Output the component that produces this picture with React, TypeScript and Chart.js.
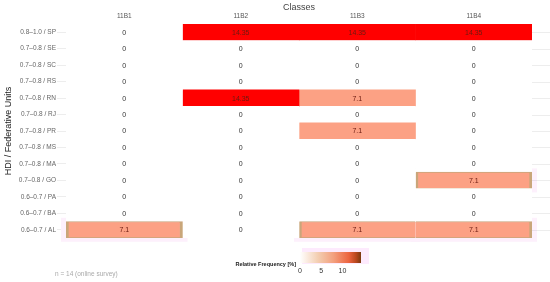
import React, { useEffect, useRef } from "react";
import { Chart, registerables } from "chart.js";

Chart.register(...registerables);

const ROWS = [
  "0.8–1.0 / SP",
  "0.7–0.8 / SE",
  "0.7–0.8 / SC",
  "0.7–0.8 / RS",
  "0.7–0.8 / RN",
  "0.7–0.8 / RJ",
  "0.7–0.8 / PR",
  "0.7–0.8 / MS",
  "0.7–0.8 / MA",
  "0.7–0.8 / GO",
  "0.6–0.7 / PA",
  "0.6–0.7 / BA",
  "0.6–0.7 / AL",
];
const CLASSES = ["11B1", "11B2", "11B3", "11B4"];
const VAL_11B1 = [0, 0, 0, 0, 0, 0, 0, 0, 0, 0, 0, 0, 7.1];
const VAL_11B2 = [14.35, 0, 0, 0, 14.35, 0, 0, 0, 0, 0, 0, 0, 0];
const VAL_11B3 = [14.35, 0, 0, 0, 7.1, 0, 7.1, 0, 0, 0, 0, 0, 7.1];
const VAL_11B4 = [14.35, 0, 0, 0, 0, 0, 0, 0, 0, 7.1, 0, 0, 7.1];
const COLUMNS = [VAL_11B1, VAL_11B2, VAL_11B3, VAL_11B4];
const LEGEND_TICKS = [0, 5, 10];
const LEGEND_MAX = 14.35;
const LEGEND_TITLE = "Relative Frequency [%]";
const FOOTNOTE = "n = 14 (online survey)";
const X_TITLE = "Classes";
const Y_TITLE = "HDI / Federative Units";

const FONT = "'Liberation Sans', Arial, sans-serif";

function colorFor(v: number) {
  if (v >= 14) return "#FF0000";
  if (v > 0) return "#FCA184";
  return "#FFFFFF";
}
function edged(r: number, c: number) {
  if (c < 0 || c >= COLUMNS.length) return false;
  return COLUMNS[c][r] > 0 && COLUMNS[c][r] < 14 && r >= 9;
}

const overlayPlugin = {
  id: "overlay",
  beforeDatasetsDraw(chart: any) {
    const ctx = chart.ctx;
    const xs = chart.scales.x;
    const ys = chart.scales.y;
    ctx.save();
    ctx.fillStyle = "#FDF0FC";
    COLUMNS.forEach((vals, c) => {
      vals.forEach((v, r) => {
        if (edged(r, c)) {
          const x0 = xs.getPixelForValue(c);
          const x1 = xs.getPixelForValue(c + 1);
          const yc = ys.getPixelForValue(r);
          ctx.fillRect(x0 - 5, yc - 12, x1 - x0 + 10, 24);
        }
      });
    });
    ctx.strokeStyle = "rgba(0,0,0,0.07)";
    ctx.lineWidth = 1;
    ROWS.forEach((_, r) => {
      const y = Math.round(ys.getPixelForValue(r)) + 0.5;
      ctx.beginPath();
      ctx.moveTo(chart.chartArea.right, y);
      ctx.lineTo(chart.width, y);
      ctx.stroke();
    });
    ctx.restore();
  },
  afterDatasetsDraw(chart: any) {
    const ctx = chart.ctx;
    const xs = chart.scales.x;
    const ys = chart.scales.y;
    ctx.save();
    ctx.font = `7px ${FONT}`;
    ctx.textAlign = "center";
    ctx.textBaseline = "middle";
    COLUMNS.forEach((vals, c) => {
      vals.forEach((v, r) => {
        ctx.fillStyle = v > 0 ? "#6a1a10" : "#333333";
        ctx.fillText(v === 0 ? "0" : String(v), xs.getPixelForValue(c + 0.5), ys.getPixelForValue(r) + 0.5);
      });
    });
    ctx.font = `6.5px ${FONT}`;
    ctx.fillStyle = "#555";
    CLASSES.forEach((name, c) => {
      ctx.fillText(name, xs.getPixelForValue(c + 0.5), 16.5);
    });
    ctx.restore();
  },
  afterDraw(chart: any) {
    const ctx = chart.ctx;
    ctx.save();
    const bx0 = 300;
    const bx1 = 361;
    const by0 = 252;
    const by1 = 263;
    ctx.fillStyle = "#FDEAFD";
    ctx.fillRect(bx0 + 2, by0 - 4, bx1 - bx0 + 6, by1 - by0 + 5);
    const g = ctx.createLinearGradient(bx0, 0, bx1, 0);
    g.addColorStop(0, "#FFFFFF");
    g.addColorStop(0.3, "#F3CDB0");
    g.addColorStop(0.55, "#F3A07E");
    g.addColorStop(0.8, "#EC6440");
    g.addColorStop(0.92, "#B8481E");
    g.addColorStop(1, "#7A3A10");
    ctx.fillStyle = g;
    ctx.fillRect(bx0, by0, bx1 - bx0, by1 - by0);
    ctx.font = `bold 5.5px ${FONT}`;
    ctx.fillStyle = "#222";
    ctx.textAlign = "right";
    ctx.textBaseline = "middle";
    ctx.fillText(LEGEND_TITLE, bx0 - 4, 264);
    ctx.font = `7px ${FONT}`;
    ctx.fillStyle = "#333";
    ctx.textAlign = "center";
    LEGEND_TICKS.forEach((t) => {
      ctx.fillText(String(t), bx0 + (t / LEGEND_MAX) * (bx1 - bx0), 271.5);
    });
    ctx.font = `6.5px ${FONT}`;
    ctx.fillStyle = "#aaa";
    ctx.textAlign = "left";
    ctx.fillText(FOOTNOTE, 55, 274);
    ctx.restore();
  },
};

export default function App() {
  const ref = useRef<HTMLCanvasElement | null>(null);
  useEffect(() => {
    document.body.style.margin = "0";
    const canvas = ref.current;
    if (!canvas) return;
    const chart = new Chart(canvas, {
      type: "bar",
      data: {
        labels: ROWS,
        datasets: COLUMNS.map((vals, c) => ({
          label: CLASSES[c],
          data: vals.map(() => [c, c + 1]) as any,
          backgroundColor: vals.map(colorFor),
          borderColor: "#C9A67A",
          borderWidth: vals.map((_, r) =>
            edged(r, c)
              ? {
                  left: edged(r, c - 1) ? 0 : 3,
                  right: edged(r, c + 1) ? 0 : 3,
                  top: 1,
                  bottom: 1,
                }
              : 0
          ) as any,
          borderSkipped: false,
          grouped: false,
          barPercentage: 1,
          categoryPercentage: 1,
        })),
      },
      options: {
        indexAxis: "y",
        responsive: false,
        animation: false,
        layout: { padding: { left: 0, right: 18, top: 0, bottom: 44 } },
        plugins: { legend: { display: false }, tooltip: { enabled: false } },
        scales: {
          x: {
            type: "linear",
            position: "top",
            min: 0,
            max: 4,
            afterFit: (s: any) => {
              s.height = 24;
            },
            ticks: { display: false },
            grid: { display: false },
            border: { display: false },
            title: {
              display: true,
              text: X_TITLE,
              color: "#444",
              font: { size: 9, family: FONT },
              padding: { top: 2, bottom: 0 },
            },
          },
          y: {
            type: "category",
            position: "left",
            offset: true,
            afterFit: (s: any) => {
              s.width = 66;
            },
            grid: {
              offset: false,
              color: "rgba(0,0,0,0.07)",
              tickLength: 9,
            },
            border: { display: false },
            ticks: {
              color: "#666",
              font: { size: 6.5, family: FONT },
              padding: 1,
              autoSkip: false,
            },
            title: {
              display: true,
              text: Y_TITLE,
              color: "#222",
              font: { size: 9, family: FONT },
              padding: { top: 3, bottom: 0 },
            },
          },
        },
      } as any,
      plugins: [overlayPlugin],
    });
    return () => chart.destroy();
  }, []);
  return (
    <div style={{ width: 550, height: 282 }}>
      <canvas ref={ref} width={550} height={282} />
    </div>
  );
}
